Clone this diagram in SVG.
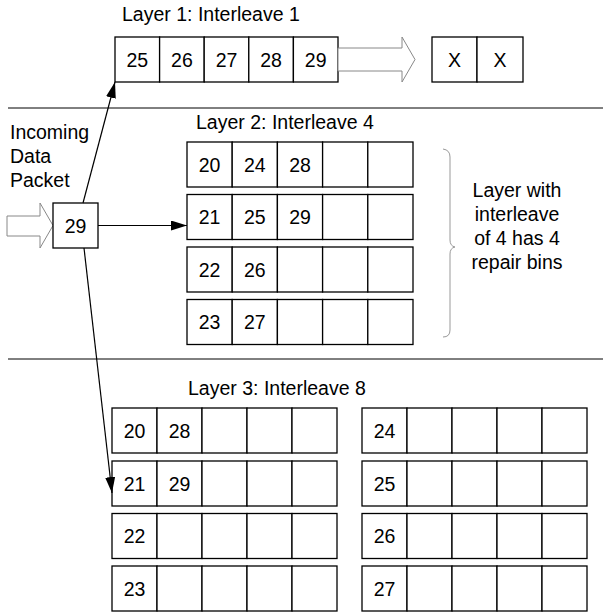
<svg xmlns="http://www.w3.org/2000/svg" width="603" height="612" viewBox="0 0 603 612">
<defs>
<style>
text{font-family:"Liberation Sans",Arial,sans-serif;font-size:19.5px;fill:#000}
.c{text-anchor:middle}
.cell{fill:#fff;stroke:#000;stroke-width:1.3}
.hollow{fill:#fff;stroke:#888;stroke-width:1}
.sep{stroke:#000;stroke-width:1}
.conn{stroke:#000;stroke-width:1.2;fill:none}
.brace{fill:none;stroke:#999;stroke-width:1}
</style>
<marker id="ah" viewBox="0 0 16 10" refX="16" refY="5" markerWidth="16" markerHeight="10" markerUnits="userSpaceOnUse" orient="auto">
<path d="M0,0 L16,5 L0,10 z" fill="#000"/>
</marker>
</defs>
<rect width="603" height="612" fill="#fff"/>

<line class="sep" x1="8" y1="108" x2="603" y2="108"/>
<line class="sep" x1="8" y1="359" x2="603" y2="359"/>

<g id="layer1">
<text x="122" y="21">Layer 1: Interleave 1</text>
<rect class="cell" x="115" y="37" width="44.6" height="45"/>
<rect class="cell" x="159.6" y="37" width="44.6" height="45"/>
<rect class="cell" x="204.2" y="37" width="44.6" height="45"/>
<rect class="cell" x="248.8" y="37" width="44.6" height="45"/>
<rect class="cell" x="293.4" y="37" width="44.6" height="45"/>
<text class="c" x="137.3" y="66.5">25</text>
<text class="c" x="181.9" y="66.5">26</text>
<text class="c" x="226.5" y="66.5">27</text>
<text class="c" x="271.1" y="66.5">28</text>
<text class="c" x="315.7" y="66.5">29</text>
</g>

<g id="layer1-out-arrow">
<polygon class="hollow" points="338,48 402,48 402,37 415,59.5 402,82 402,71 338,71"/>
</g>

<g id="dropped">
<rect class="cell" x="432" y="37" width="45" height="45"/>
<rect class="cell" x="477" y="37" width="46" height="45"/>
<text class="c" x="454.5" y="66.5">X</text>
<text class="c" x="500" y="66.5">X</text>
</g>

<g id="incoming">
<text x="10" y="139">Incoming</text>
<text x="10" y="163">Data</text>
<text x="10" y="187">Packet</text>
<polygon class="hollow" points="7,216 40,216 40,203 53,225.5 40,248 40,236 7,236"/>
</g>

<g id="packet">
<rect class="cell" x="53" y="203" width="45" height="45"/>
<text class="c" x="75.5" y="232.5">29</text>
</g>

<g id="layer2">
<text x="196" y="129">Layer 2: Interleave 4</text>
<rect class="cell" x="187" y="142" width="45.2" height="45"/>
<rect class="cell" x="232.2" y="142" width="45.2" height="45"/>
<rect class="cell" x="277.4" y="142" width="45.2" height="45"/>
<rect class="cell" x="322.6" y="142" width="45.2" height="45"/>
<rect class="cell" x="367.8" y="142" width="45.2" height="45"/>
<rect class="cell" x="187" y="194.5" width="45.2" height="45"/>
<rect class="cell" x="232.2" y="194.5" width="45.2" height="45"/>
<rect class="cell" x="277.4" y="194.5" width="45.2" height="45"/>
<rect class="cell" x="322.6" y="194.5" width="45.2" height="45"/>
<rect class="cell" x="367.8" y="194.5" width="45.2" height="45"/>
<rect class="cell" x="187" y="247" width="45.2" height="45"/>
<rect class="cell" x="232.2" y="247" width="45.2" height="45"/>
<rect class="cell" x="277.4" y="247" width="45.2" height="45"/>
<rect class="cell" x="322.6" y="247" width="45.2" height="45"/>
<rect class="cell" x="367.8" y="247" width="45.2" height="45"/>
<rect class="cell" x="187" y="299.5" width="45.2" height="45"/>
<rect class="cell" x="232.2" y="299.5" width="45.2" height="45"/>
<rect class="cell" x="277.4" y="299.5" width="45.2" height="45"/>
<rect class="cell" x="322.6" y="299.5" width="45.2" height="45"/>
<rect class="cell" x="367.8" y="299.5" width="45.2" height="45"/>
<text class="c" x="209.6" y="171.5">20</text>
<text class="c" x="254.8" y="171.5">24</text>
<text class="c" x="300" y="171.5">28</text>
<text class="c" x="209.6" y="224">21</text>
<text class="c" x="254.8" y="224">25</text>
<text class="c" x="300" y="224">29</text>
<text class="c" x="209.6" y="276.5">22</text>
<text class="c" x="254.8" y="276.5">26</text>
<text class="c" x="209.6" y="329">23</text>
<text class="c" x="254.8" y="329">27</text>
</g>

<g id="brace-note">
<path class="brace" d="M443,149 Q450,150 450,157 L450,240 Q450,246 455,247 Q450,248 450,254 L450,330 Q450,337 443,337"/>
<text class="c" x="517" y="197">Layer with</text>
<text class="c" x="517" y="221">interleave</text>
<text class="c" x="517" y="245">of 4 has 4</text>
<text class="c" x="517" y="269">repair bins</text>
</g>

<g id="layer3">
<text x="188" y="395">Layer 3: Interleave 8</text>
<g id="layer3-left">
<rect class="cell" x="112" y="408" width="45" height="45"/>
<rect class="cell" x="157" y="408" width="45" height="45"/>
<rect class="cell" x="202" y="408" width="45" height="45"/>
<rect class="cell" x="247" y="408" width="45" height="45"/>
<rect class="cell" x="292" y="408" width="45" height="45"/>
<rect class="cell" x="112" y="461" width="45" height="45"/>
<rect class="cell" x="157" y="461" width="45" height="45"/>
<rect class="cell" x="202" y="461" width="45" height="45"/>
<rect class="cell" x="247" y="461" width="45" height="45"/>
<rect class="cell" x="292" y="461" width="45" height="45"/>
<rect class="cell" x="112" y="513.5" width="45" height="45"/>
<rect class="cell" x="157" y="513.5" width="45" height="45"/>
<rect class="cell" x="202" y="513.5" width="45" height="45"/>
<rect class="cell" x="247" y="513.5" width="45" height="45"/>
<rect class="cell" x="292" y="513.5" width="45" height="45"/>
<rect class="cell" x="112" y="566" width="45" height="45"/>
<rect class="cell" x="157" y="566" width="45" height="45"/>
<rect class="cell" x="202" y="566" width="45" height="45"/>
<rect class="cell" x="247" y="566" width="45" height="45"/>
<rect class="cell" x="292" y="566" width="45" height="45"/>
<text class="c" x="134.5" y="437.5">20</text>
<text class="c" x="179.5" y="437.5">28</text>
<text class="c" x="134.5" y="490.5">21</text>
<text class="c" x="179.5" y="490.5">29</text>
<text class="c" x="134.5" y="543">22</text>
<text class="c" x="134.5" y="595.5">23</text>
</g>
<g id="layer3-right">
<rect class="cell" x="362" y="408" width="45" height="45"/>
<rect class="cell" x="407" y="408" width="45" height="45"/>
<rect class="cell" x="452" y="408" width="45" height="45"/>
<rect class="cell" x="497" y="408" width="45" height="45"/>
<rect class="cell" x="542" y="408" width="45" height="45"/>
<rect class="cell" x="362" y="461" width="45" height="45"/>
<rect class="cell" x="407" y="461" width="45" height="45"/>
<rect class="cell" x="452" y="461" width="45" height="45"/>
<rect class="cell" x="497" y="461" width="45" height="45"/>
<rect class="cell" x="542" y="461" width="45" height="45"/>
<rect class="cell" x="362" y="513.5" width="45" height="45"/>
<rect class="cell" x="407" y="513.5" width="45" height="45"/>
<rect class="cell" x="452" y="513.5" width="45" height="45"/>
<rect class="cell" x="497" y="513.5" width="45" height="45"/>
<rect class="cell" x="542" y="513.5" width="45" height="45"/>
<rect class="cell" x="362" y="566" width="45" height="45"/>
<rect class="cell" x="407" y="566" width="45" height="45"/>
<rect class="cell" x="452" y="566" width="45" height="45"/>
<rect class="cell" x="497" y="566" width="45" height="45"/>
<rect class="cell" x="542" y="566" width="45" height="45"/>
<text class="c" x="384.5" y="437.5">24</text>
<text class="c" x="384.5" y="490.5">25</text>
<text class="c" x="384.5" y="543">26</text>
<text class="c" x="384.5" y="595.5">27</text>
</g>
</g>

<g id="connectors">
<line class="conn" x1="83" y1="203" x2="115" y2="82" marker-end="url(#ah)"/>
<line class="conn" x1="98" y1="225.5" x2="187" y2="225.5" marker-end="url(#ah)"/>
<line class="conn" x1="84" y1="248" x2="112" y2="493" marker-end="url(#ah)"/>
</g>
</svg>
